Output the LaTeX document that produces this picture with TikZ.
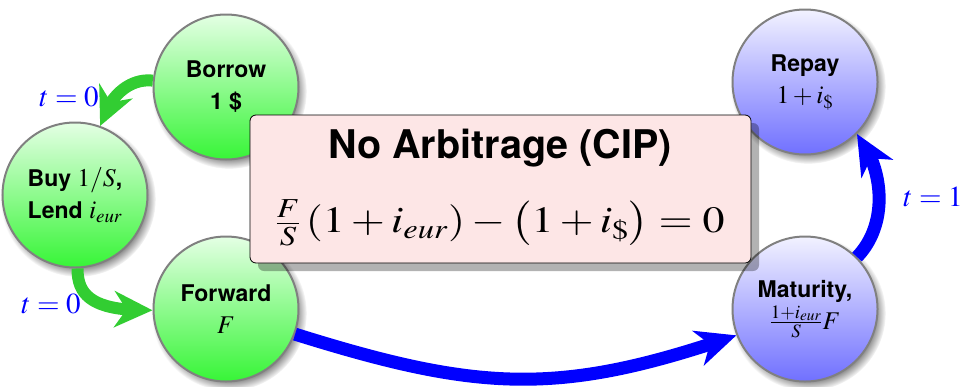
\documentclass[tikz,border=0pt]{standalone}
\usepackage{mathptmx}
\usepackage[no-math]{fontspec}
\usepackage{graphicx}
\setsansfont{TeX Gyre Heros}
\usetikzlibrary{arrows.meta,shadows,bending}
\definecolor{gtop}{RGB}{228,255,228}
\definecolor{gbot}{RGB}{55,245,55}
\definecolor{btop}{RGB}{242,242,255}
\definecolor{bbot}{RGB}{112,112,255}
\definecolor{boxfill}{RGB}{253,230,230}
\definecolor{arrgreen}{RGB}{50,205,50}
\definecolor{arrblue}{RGB}{0,0,255}
\newcommand{\nm}[1]{{\fontsize{25.5}{32}\selectfont$#1$}}
\tikzset{
  state/.style={circle, minimum size=145pt, inner sep=0pt, draw=black!50, line width=2pt,
    circular drop shadow={shadow xshift=3pt, shadow yshift=-4pt, shadow scale=1.07},
    align=center, font=\fontsize{23}{32}\selectfont\sffamily\bfseries},
  gstate/.style={state, top color=gtop, bottom color=gbot},
  bstate/.style={state, top color=btop, bottom color=bbot},
  garrow/.style={draw=arrgreen, line width=12pt, -{Stealth[length=38pt,width=36pt,inset=12pt]}},
  barrow/.style={draw=arrblue, line width=13pt, -{Stealth[length=40pt,width=36pt,inset=12pt]}},
  tlabel/.style={text=blue, font=\fontsize{29}{29}\selectfont, inner sep=0pt},
}
\begin{document}
\begin{tikzpicture}[x=1pt,y=-1pt]
\useasboundingbox (0,0) rectangle (965,386);
\node[gstate] (borrow) at (226,87) {Borrow\\1 \$};
\node[gstate] (buy) at (75,195) {Buy \nm{1/S},\\Lend \nm{i_{eur}}};
\node[gstate] (forward) at (226,309) {Forward\\\nm{F}};
\node[bstate] (repay) at (805,82) {Repay\\\nm{1+i_{\$}}};
\node[bstate] (maturity) at (805,309) {Maturity,\\\nm{\frac{1+i_{eur}}{S}F}};
\node[draw=black, line width=0.8pt, rounded corners=6pt, fill=boxfill,
  minimum width=501pt, minimum height=148pt, inner sep=0pt,
  drop shadow={shadow xshift=8pt, shadow yshift=-8pt, opacity=0.3, fill=black}]
  (cip) at (500.5,189) {};
\node[font=\fontsize{39.5}{40}\selectfont\sffamily\bfseries, inner sep=0pt] (title) at (500,148) {No Arbitrage (CIP)};
\node[font=\fontsize{36}{38}\selectfont, inner sep=0pt] (eq) at (500,223)
  {\scalebox{1.22}[1.03]{$\frac{F}{S}\,(1+i_{eur})-\bigl(1+i_{\$}\bigr)=0$}};
\draw[garrow] (borrow.175) .. controls (128,78) and (108,98) .. (buy.70);
\draw[garrow] (buy.272) .. controls (77,300) and (100,311) .. (forward.181);
\draw[barrow] (forward.-20) .. controls (480,392) and (560,396) .. (maturity.201);
\draw[barrow] (maturity.45) .. controls (888,225) and (885,170) .. (repay.-45);
\node[tlabel] (t0a) at (69,97) {$t=0$};
\node[tlabel] (t0b) at (51,304) {$t=0$};
\node[tlabel] (t1) at (933,197) {$t=1$};
\end{tikzpicture}
\end{document}
